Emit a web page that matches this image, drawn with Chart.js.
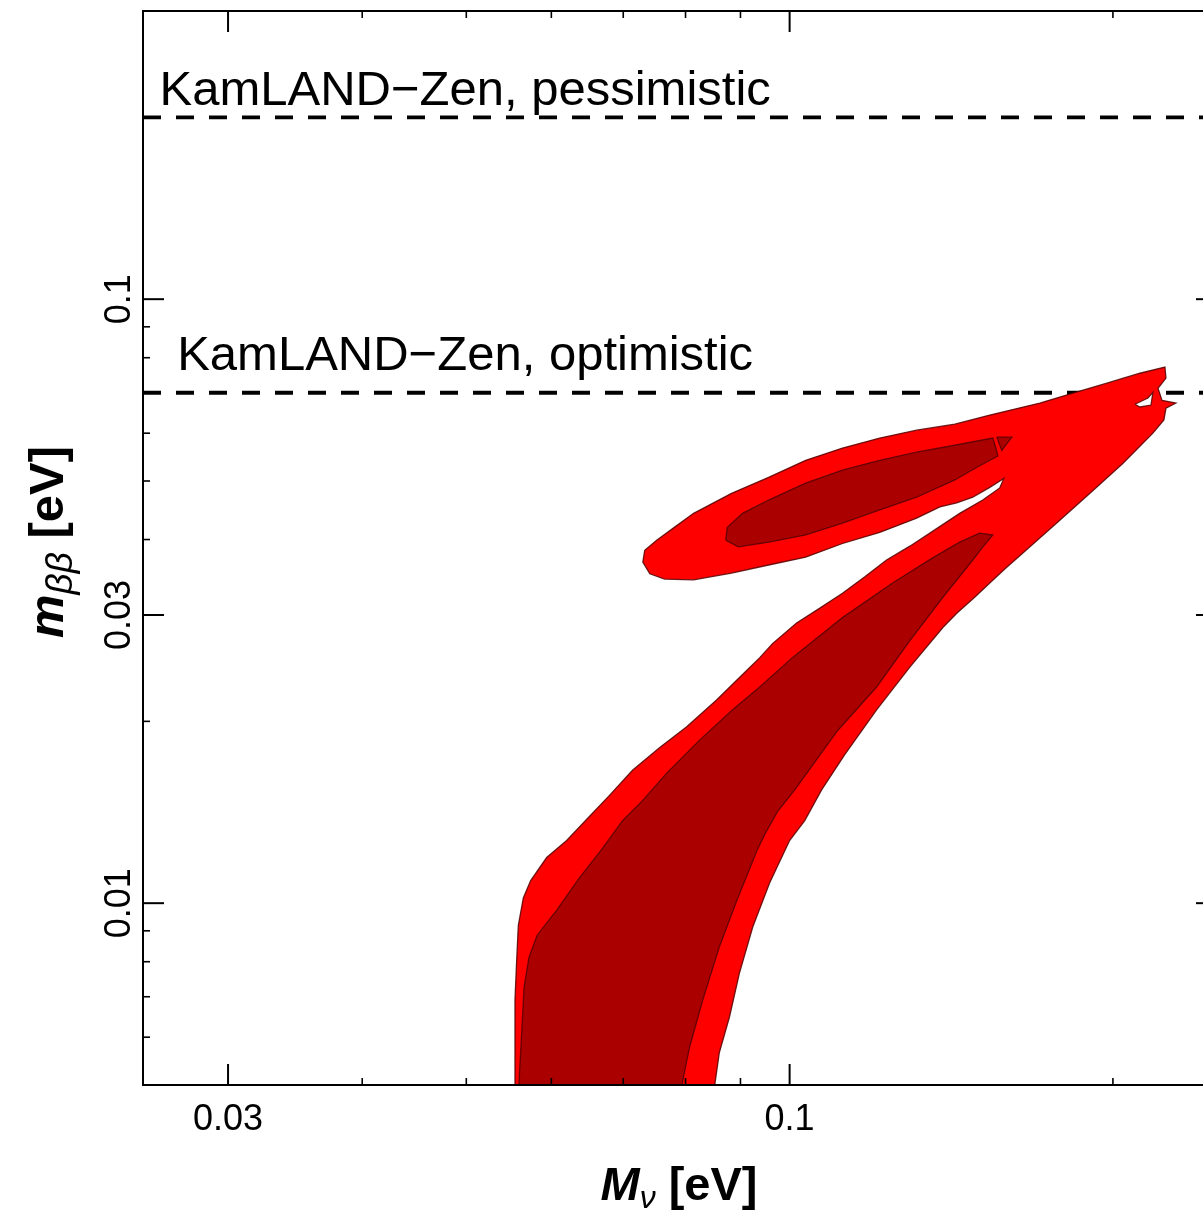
<!DOCTYPE html>
<html lang="en">
<head>
<meta charset="UTF-8">
<title>m_bb versus M_nu</title>
<script src="https://cdn.jsdelivr.net/npm/chart.js"></script>
<style>
  html, body { margin: 0; padding: 0; overflow: hidden; background: #fff; }
  #wrap { width: 1230px; height: 1211px; }
</style>
</head>
<body>
<div id="wrap"><canvas id="chart"></canvas></div>
<script>
// axis ranges in eV (log-log)
const xRange = [0.025, 0.25];
const yRange = [0.005, 0.3];

// ticks
const xMajor = [0.03, 0.1];
const xMajorLabels = ['0.03', '0.1'];
const xMinor = [0.04, 0.05, 0.06, 0.07, 0.08, 0.09, 0.2];
const yMajor = [0.01, 0.03, 0.1];
const yMajorLabels = ['0.01', '0.03', '0.1'];
const yMinor = [0.006, 0.007, 0.008, 0.009, 0.02, 0.04, 0.05, 0.06, 0.07, 0.08, 0.09, 0.2];

// KamLAND-Zen bounds on m_bb
const limitNames = ['KamLAND\u2212Zen, pessimistic', 'KamLAND\u2212Zen, optimistic'];
const limitValues = [0.2, 0.07];
const limitLabelX = [0.0259, 0.0269];
const limitLabelY = [0.2095, 0.0763];

// outer (light red) region
const outerX = [0.0554, 0.0555, 0.0557, 0.0559, 0.0565, 0.0574, 0.0594, 0.0620, 0.0648, 0.0680, 0.0714, 0.0757, 0.0802, 0.0855, 0.0908, 0.0938, 0.0964, 0.1015, 0.1067, 0.1120, 0.1175, 0.1231, 0.1294, 0.1365, 0.1440, 0.1513, 0.1569, 0.1583, 0.1536, 0.1481, 0.1431, 0.1380, 0.1313, 0.1213, 0.1120, 0.1035, 0.0956, 0.0883, 0.0814, 0.0765, 0.0741, 0.0730, 0.0733, 0.0752, 0.0781, 0.0814, 0.0883, 0.0956, 0.1035, 0.1120, 0.1213, 0.1313, 0.1425, 0.1536, 0.1710, 0.1836, 0.1974, 0.2119, 0.2236, 0.2241, 0.2203, 0.2222, 0.2289, 0.2241, 0.2231, 0.2179, 0.2044, 0.1904, 0.1773, 0.1649, 0.1590, 0.1536, 0.1487, 0.1431, 0.1389, 0.1294, 0.1205, 0.1125, 0.1071, 0.1033, 0.1000, 0.0958, 0.0924, 0.0898, 0.0879, 0.0860, 0.0849];
const outerY = [0.0048, 0.00691, 0.00804, 0.00919, 0.0102, 0.0109, 0.0119, 0.0127, 0.0138, 0.0151, 0.0166, 0.0181, 0.0196, 0.0217, 0.0241, 0.0255, 0.0269, 0.0291, 0.0308, 0.0326, 0.0347, 0.0370, 0.0390, 0.0415, 0.0442, 0.0465, 0.0487, 0.0505, 0.0488, 0.0470, 0.0460, 0.0453, 0.0434, 0.0411, 0.0394, 0.0374, 0.0363, 0.0352, 0.0343, 0.0344, 0.0351, 0.0367, 0.0384, 0.0399, 0.0419, 0.0442, 0.0477, 0.0507, 0.0541, 0.0567, 0.0589, 0.0607, 0.0621, 0.0643, 0.0673, 0.0699, 0.0726, 0.0754, 0.0772, 0.0740, 0.0712, 0.0680, 0.0673, 0.0660, 0.0631, 0.0600, 0.0535, 0.0477, 0.0426, 0.0380, 0.0359, 0.0339, 0.0321, 0.0302, 0.0286, 0.0246, 0.0209, 0.0176, 0.0154, 0.0137, 0.0127, 0.0108, 0.00913, 0.00766, 0.00648, 0.00565, 0.0048];

// small hole in the outer region
const holeX = [0.2097, 0.2156, 0.2179, 0.2170, 0.2119];
const holeY = [0.0670, 0.0686, 0.0701, 0.0668, 0.0663];

// inner (dark red) regions
const innerLowX = [0.0559, 0.0563, 0.0566, 0.0572, 0.0582, 0.0607, 0.0637, 0.0669, 0.0699, 0.0730, 0.0768, 0.0824, 0.0885, 0.0938, 0.1006, 0.1120, 0.1247, 0.1359, 0.1440, 0.1503, 0.1546, 0.1510, 0.1481, 0.1389, 0.1294, 0.1205, 0.1108, 0.1055, 0.1011, 0.0975, 0.0948, 0.0932, 0.0893, 0.0860, 0.0830, 0.0807, 0.0790];
const innerLowY = [0.0048, 0.00609, 0.00726, 0.00814, 0.00885, 0.00974, 0.0110, 0.0123, 0.0137, 0.0148, 0.0164, 0.0186, 0.0209, 0.0228, 0.0255, 0.0297, 0.0339, 0.0373, 0.0396, 0.0410, 0.0407, 0.0387, 0.0370, 0.0321, 0.0272, 0.0228, 0.0193, 0.0171, 0.0154, 0.0142, 0.0130, 0.0122, 0.0101, 0.00846, 0.00691, 0.00578, 0.0048];
const innerUpX = [0.0872, 0.0875, 0.0904, 0.0956, 0.1035, 0.1120, 0.1213, 0.1313, 0.1425, 0.1546, 0.1556, 0.1563, 0.1494, 0.1425, 0.1313, 0.1213, 0.1120, 0.1035, 0.0956, 0.0896];
const innerUpY = [0.0399, 0.0419, 0.0442, 0.0465, 0.0496, 0.0521, 0.0541, 0.0558, 0.0573, 0.0589, 0.0567, 0.0550, 0.0527, 0.0502, 0.0470, 0.0448, 0.0426, 0.0407, 0.0396, 0.0389];
const innerBitX = [0.1559, 0.1610, 0.1576];
const innerBitY = [0.0591, 0.0591, 0.0562];

const FONT = '"Liberation Sans", Arial, Helvetica, sans-serif';
const OUTLINE = 'rgba(85, 0, 0, 0.85)';

function region(xs, ys, color, order) {
  const pts = xs.map((x, i) => ({ x: x, y: ys[i] }));
  pts.push(pts[0]);
  return {
    data: pts,
    backgroundColor: color,
    borderColor: OUTLINE,
    borderWidth: 1.3,
    fill: 'shape',
    pointRadius: 0,
    tension: 0,
    order: order
  };
}

function limitLine(v) {
  return {
    data: [{ x: xRange[0], y: v }, { x: xRange[1], y: v }],
    borderColor: '#000',
    borderWidth: 3.8,
    borderDash: [18, 15],
    fill: false,
    pointRadius: 0,
    order: 10
  };
}

const datasets = [
  limitLine(limitValues[0]),
  limitLine(limitValues[1]),
  region(outerX, outerY, '#ff0000', 4),
  region(holeX, holeY, '#ffffff', 3),
  region(innerLowX, innerLowY, '#aa0000', 2),
  region(innerUpX, innerUpY, '#aa0000', 2),
  region(innerBitX, innerBitY, '#aa0000', 2)
];

// draw text made of several runs (for subscripts), centred on cx
function drawRuns(ctx, runs, cx, base) {
  let total = 0;
  runs.forEach(r => { ctx.font = r.font; total += ctx.measureText(r.t).width; });
  let x = cx - total / 2;
  ctx.textAlign = 'left';
  runs.forEach(r => {
    ctx.font = r.font;
    ctx.fillText(r.t, x, base + r.dy);
    x += ctx.measureText(r.t).width;
  });
}

const framePlugin = {
  id: 'frame',
  afterDatasetsDraw(chart) {
    const { ctx, chartArea: a } = chart;
    const sx = chart.scales.x, sy = chart.scales.y;
    ctx.save();
    ctx.strokeStyle = '#000';
    ctx.fillStyle = '#000';

    const seg = (x1, y1, x2, y2, w) => {
      ctx.lineWidth = w;
      ctx.beginPath();
      ctx.moveTo(x1, y1);
      ctx.lineTo(x2, y2);
      ctx.stroke();
    };

    xMajor.forEach(v => {
      const p = sx.getPixelForValue(v);
      seg(p, a.bottom, p, a.bottom - 21, 2);
      seg(p, a.top, p, a.top + 21, 2);
    });
    xMinor.forEach(v => {
      const p = sx.getPixelForValue(v);
      seg(p, a.bottom, p, a.bottom - 7, 1.6);
      seg(p, a.top, p, a.top + 7, 1.6);
    });
    yMajor.forEach(v => {
      const p = sy.getPixelForValue(v);
      seg(a.left, p, a.left + 21, p, 2);
      seg(a.right, p, a.right - 21, p, 2);
    });
    yMinor.forEach(v => {
      const p = sy.getPixelForValue(v);
      seg(a.left, p, a.left + 7, p, 1.6);
      seg(a.right, p, a.right - 7, p, 1.6);
    });

    ctx.lineWidth = 2;
    ctx.strokeRect(a.left, a.top, a.right - a.left, a.bottom - a.top);

    // tick labels
    ctx.font = '36px ' + FONT;
    ctx.textAlign = 'center';
    ctx.textBaseline = 'alphabetic';
    xMajor.forEach((v, i) => {
      ctx.fillText(xMajorLabels[i], sx.getPixelForValue(v), a.bottom + 45);
    });
    yMajor.forEach((v, i) => {
      ctx.save();
      ctx.translate(a.left - 13, sy.getPixelForValue(v));
      ctx.rotate(-Math.PI / 2);
      ctx.textAlign = 'center';
      ctx.fillText(yMajorLabels[i], 0, 0);
      ctx.restore();
    });

    // limit labels
    ctx.font = '49px ' + FONT;
    ctx.textAlign = 'left';
    limitNames.forEach((t, i) => {
      ctx.fillText(t, sx.getPixelForValue(limitLabelX[i]), sy.getPixelForValue(limitLabelY[i]));
    });

    // axis titles
    const bold = 'bold 47px ' + FONT;
    const boldIt = 'italic bold 47px ' + FONT;
    drawRuns(ctx, [
      { t: 'M', font: boldIt, dy: 0 },
      { t: '\u03bd', font: 'italic 32px ' + FONT, dy: 8 },
      { t: ' [eV]', font: bold, dy: 0 }
    ], (a.left + a.right) / 2 - 1, 1200);

    ctx.save();
    ctx.translate(63, (a.top + a.bottom) / 2 - 6);
    ctx.rotate(-Math.PI / 2);
    drawRuns(ctx, [
      { t: 'm', font: 'italic bold 49px ' + FONT, dy: 0 },
      { t: '\u03b2\u03b2', font: 'italic 37px ' + FONT, dy: 9 },
      { t: ' [eV]', font: 'bold 49px ' + FONT, dy: 0 }
    ], 0, 0);
    ctx.restore();

    ctx.restore();
  }
};

new Chart(document.getElementById('chart'), {
  type: 'line',
  data: { datasets: datasets },
  options: {
    responsive: true,
    maintainAspectRatio: false,
    animation: false,
    layout: { padding: { left: 143, top: 11, right: 13, bottom: 126 } },
    scales: {
      x: { type: 'logarithmic', min: xRange[0], max: xRange[1], display: false },
      y: { type: 'logarithmic', min: yRange[0], max: yRange[1], display: false }
    },
    plugins: {
      legend: { display: false },
      tooltip: { enabled: false }
    }
  },
  plugins: [framePlugin]
});
</script>
</body>
</html>
